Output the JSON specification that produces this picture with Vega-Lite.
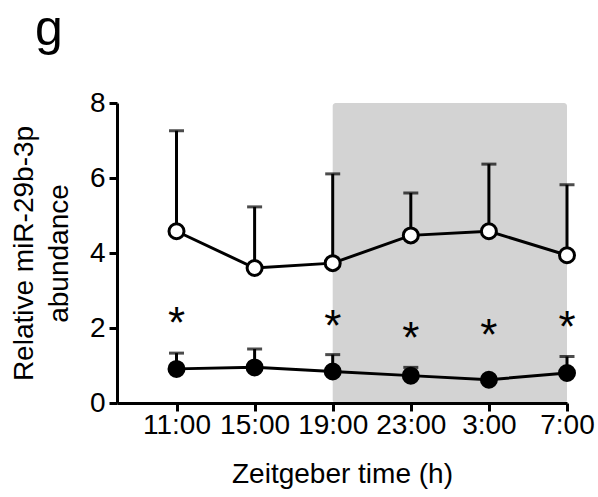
{
  "$schema": "https://vega.github.io/schema/vega-lite/v6.json",
  "width": 450,
  "height": 300,
  "autosize": {"type": "none"},
  "padding": {"left": 117, "top": 103, "right": 31, "bottom": 94},
  "background": "white",
  "title": {
    "text": "g",
    "anchor": "start",
    "frame": "group",
    "font": "Liberation Sans",
    "fontSize": 50,
    "fontWeight": "normal",
    "color": "black",
    "baseline": "alphabetic",
    "dx": -82,
    "dy": 22,
    "offset": 16
  },
  "datasets": {
    "abundance": [
      {"time": "11:00", "group": "open", "mean": 4.58, "upper": 7.26},
      {"time": "15:00", "group": "open", "mean": 3.60, "upper": 5.23},
      {"time": "19:00", "group": "open", "mean": 3.73, "upper": 6.11},
      {"time": "23:00", "group": "open", "mean": 4.47, "upper": 5.60},
      {"time": "3:00", "group": "open", "mean": 4.58, "upper": 6.37},
      {"time": "7:00", "group": "open", "mean": 3.94, "upper": 5.82},
      {"time": "11:00", "group": "filled", "mean": 0.91, "upper": 1.33},
      {"time": "15:00", "group": "filled", "mean": 0.95, "upper": 1.44},
      {"time": "19:00", "group": "filled", "mean": 0.84, "upper": 1.29},
      {"time": "23:00", "group": "filled", "mean": 0.73, "upper": 0.95},
      {"time": "3:00", "group": "filled", "mean": 0.62, "upper": 0.66},
      {"time": "7:00", "group": "filled", "mean": 0.80, "upper": 1.24}
    ],
    "stars": [
      {"time": "11:00", "pos": 2.36, "mark": "*"},
      {"time": "19:00", "pos": 2.27, "mark": "*"},
      {"time": "23:00", "pos": 1.96, "mark": "*"},
      {"time": "3:00", "pos": 2.02, "mark": "*"},
      {"time": "7:00", "pos": 2.24, "mark": "*"}
    ],
    "dark": [
      {"start": "19:00", "end": "7:00", "lo": 0, "hi": 8}
    ]
  },
  "encoding": {
    "x": {
      "field": "time",
      "type": "nominal",
      "sort": ["11:00", "15:00", "19:00", "23:00", "3:00", "7:00"],
      "scale": {
        "type": "point",
        "domain": ["11:00", "15:00", "19:00", "23:00", "3:00", "7:00"],
        "padding": 0.381,
        "align": 1
      },
      "axis": {"title": "Zeitgeber time (h)", "labelAngle": 0, "labelPadding": 0, "titlePadding": 21}
    }
  },
  "layer": [
    {
      "data": {"name": "dark"},
      "mark": {"type": "rect", "color": "#d3d3d3", "cornerRadius": 3},
      "encoding": {
        "x": {"field": "start", "type": "nominal"},
        "x2": {"field": "end"},
        "y": {
          "field": "lo",
          "type": "quantitative",
          "title": ["Relative miR-29b-3p", "abundance"],
          "scale": {"domain": [0, 8], "nice": false},
          "axis": {"values": [0, 2, 4, 6, 8], "labelPadding": 4, "titlePadding": 16, "titleLineHeight": 35}
        },
        "y2": {"field": "hi"}
      }
    },
    {
      "data": {"name": "abundance"},
      "layer": [
        {
          "mark": {"type": "rule", "color": "black", "strokeWidth": 3},
          "encoding": {
            "y": {"field": "mean", "type": "quantitative", "title": ["Relative miR-29b-3p", "abundance"]},
            "y2": {"field": "upper"}
          }
        },
        {
          "mark": {"type": "tick", "orient": "horizontal", "color": "black", "size": 15, "thickness": 3},
          "encoding": {
            "y": {"field": "upper", "type": "quantitative", "title": ["Relative miR-29b-3p", "abundance"]}
          }
        },
        {
          "mark": {"type": "line", "color": "black", "strokeWidth": 3},
          "encoding": {
            "y": {"field": "mean", "type": "quantitative", "title": ["Relative miR-29b-3p", "abundance"]},
            "detail": {"field": "group"}
          }
        },
        {
          "mark": {"type": "point", "shape": "circle", "size": 225, "strokeWidth": 3, "stroke": "black", "filled": true, "opacity": 1},
          "encoding": {
            "y": {"field": "mean", "type": "quantitative", "title": ["Relative miR-29b-3p", "abundance"]},
            "fill": {
              "field": "group",
              "type": "nominal",
              "scale": {"domain": ["open", "filled"], "range": ["white", "black"]},
              "legend": null
            }
          }
        }
      ]
    },
    {
      "data": {"name": "stars"},
      "mark": {"type": "text", "font": "Liberation Sans", "fontSize": 44, "color": "black", "baseline": "middle", "align": "center", "dy": 10},
      "encoding": {
        "y": {"field": "pos", "type": "quantitative", "title": ["Relative miR-29b-3p", "abundance"]},
        "text": {"field": "mark"}
      }
    }
  ],
  "config": {
    "view": {"stroke": null},
    "axis": {
      "grid": false,
      "domainColor": "black",
      "domainWidth": 3,
      "tickColor": "black",
      "tickWidth": 3,
      "tickSize": 8,
      "labelFont": "Liberation Sans",
      "labelFontSize": 28,
      "labelColor": "black",
      "titleFont": "Liberation Sans",
      "titleFontSize": 28,
      "titleFontWeight": "normal",
      "titleColor": "black"
    }
  }
}
